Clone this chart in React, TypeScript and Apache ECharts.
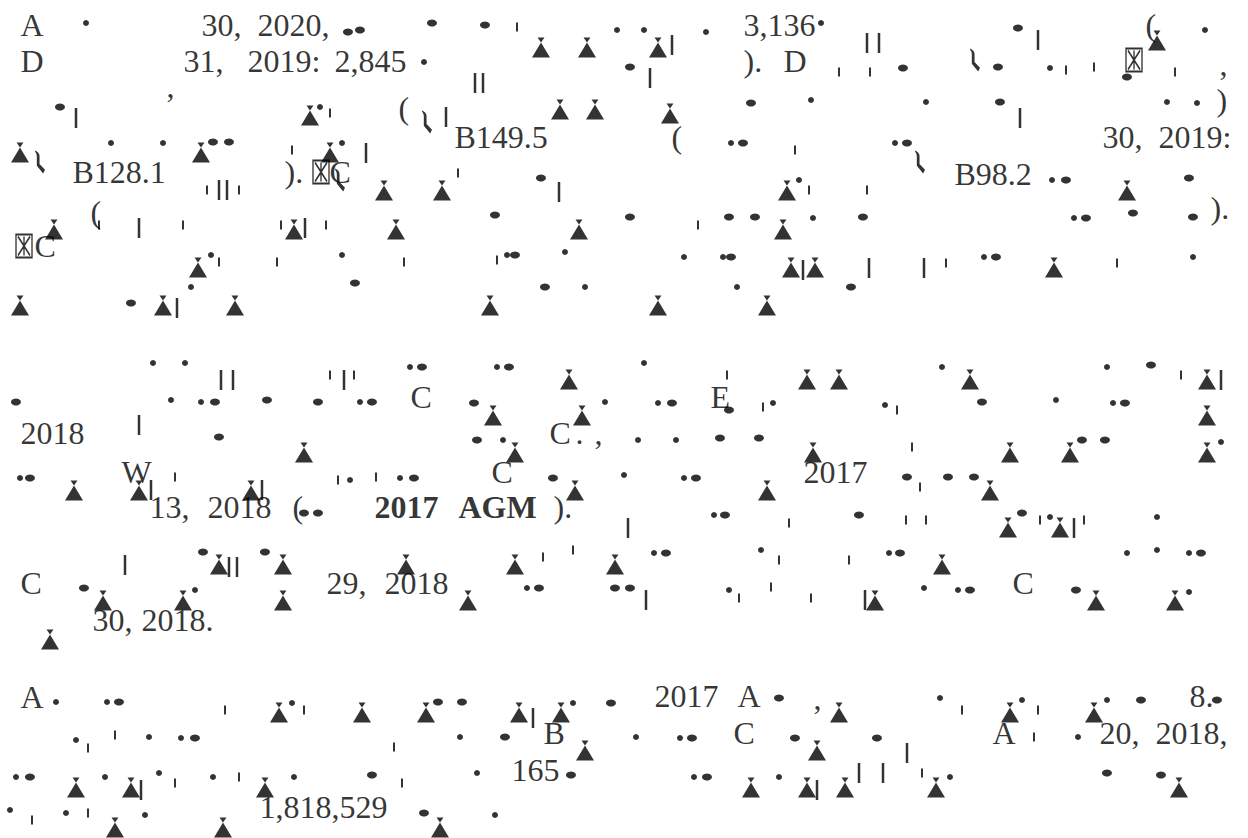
import React, { useEffect, useRef } from "react";
import * as echarts from "echarts";

const PAGE_W = 1248;
const PAGE_H = 838;

// Readable words of the page: [text, x (left edge), y (middle)]
const paragraph1Words: [string, number, number][] = [
  ["A", 20, 25], ["30,", 201, 25], ["2020,", 257, 25], ["3,136", 743, 25], ["(", 1145, 25],
  ["D", 20, 61], ["31,", 183, 61], ["2019:", 247, 61], ["2,845", 334, 61], [").", 743, 61], ["D", 783, 61], [",", 1219, 64],
  [",", 166, 86], ["(", 398, 108], [")", 1216, 100],
  ["(", 671, 137], ["B149.5", 454, 137], ["30,", 1102, 137], ["2019:", 1158, 137],
  ["B128.1", 72, 172], [").", 284, 172], ["C", 329, 172], ["B98.2", 954, 174],
  ["(", 90, 212], [").", 1210, 208],
  ["C", 34, 246],
];

const paragraph2Words: [string, number, number][] = [
  ["C", 410, 397], ["E", 710, 397],
  ["2018", 20, 433], ["C", 549, 433], [".", 575, 433], [",", 594, 433],
  ["W", 121, 472], ["C", 491, 472], ["2017", 803, 472],
  ["13,", 149, 507], ["2018", 207, 507], ["(", 292, 507], [").", 553, 507],
  ["C", 20, 583], ["29,", 326, 583], ["2018", 384, 583], ["C", 1012, 583],
  ["30,", 92, 620], ["2018.", 141, 620],
];

const paragraph3Words: [string, number, number][] = [
  ["A", 20, 697], ["2017", 654, 696], ["A", 737, 696], [",", 813, 698], ["8.", 1189, 696],
  ["B", 543, 733], ["C", 733, 733], ["A", 992, 733], ["20,", 1099, 733], ["2018,", 1155, 733],
  ["165", 511, 770],
  ["1,818,529", 259, 807],
];

const boldWords: [string, number, number][] = [
  ["2017", 374, 507],
  ["AGM", 458, 507],
];

// Missing-glyph boxes: [x, y] (centre)
const boxGlyphs: [number, number][] = [
  [1134, 60],
  [321, 172],
  [24, 246],
];

// Hook-shaped glyphs: [x, y] (centre)
const hookGlyphs: [number, number][] = [
  [40, 162], [427, 122], [340, 180], [975, 60], [920, 162],
];

// Triangle glyphs: [x, y] (centre)
const paragraph1Triangles: [number, number][] = [
  [541, 50], [587, 50], [658, 50], [1157, 43],
  [310, 118], [560, 112], [595, 112], [670, 116],
  [20, 155], [201, 155], [330, 155],
  [384, 193], [442, 193], [787, 193], [1127, 193],
  [54, 232], [294, 232], [396, 232], [579, 232], [783, 232],
  [198, 270], [791, 270], [815, 270], [1054, 270],
  [20, 308], [163, 308], [235, 308], [490, 308], [658, 308], [767, 308],
];

const paragraph2Triangles: [number, number][] = [
  [569, 382], [807, 382], [839, 382], [970, 382], [1207, 382],
  [493, 418], [582, 418], [1207, 418],
  [304, 455], [515, 455], [813, 455], [1010, 455], [1070, 455], [1207, 455],
  [74, 493], [139, 493], [251, 493], [575, 493], [767, 493], [990, 493],
  [1008, 530], [1060, 530],
  [219, 567], [283, 567], [406, 567], [515, 567], [615, 567], [942, 567],
  [103, 603], [183, 603], [283, 603], [468, 603], [875, 603], [1096, 603], [1175, 603],
  [50, 642],
];

const paragraph3Triangles: [number, number][] = [
  [279, 715], [362, 715], [426, 715], [519, 715], [561, 715], [839, 715], [1010, 715], [1094, 715],
  [585, 753], [817, 753],
  [76, 790], [131, 790], [265, 790], [751, 790], [807, 790], [845, 790], [936, 790], [1179, 790],
  [115, 830], [223, 830], [440, 830],
];

// Tall strokes: [x, y]
const tallStrokes: [number, number][] = [
  [672, 45], [867, 43], [879, 43], [1038, 40], [650, 78], [475, 83], [483, 83], [76, 118], [446, 117], [1020, 118],
  [366, 153], [219, 190], [227, 190], [559, 192], [139, 228], [305, 228], [869, 268], [924, 268], [803, 270], [177, 308],
  [221, 380], [233, 380], [344, 380], [1221, 380], [139, 425], [151, 490], [262, 490], [628, 528], [1074, 528],
  [125, 565], [229, 567], [237, 567], [646, 600], [865, 600], [533, 718], [907, 753], [141, 790], [817, 790], [859, 773], [883, 773],
];

// Short strokes: [x, y]
const shortStrokes: [number, number][] = [
  [517, 27], [330, 113], [839, 72], [870, 72], [1066, 70], [1094, 67], [1175, 72], [292, 150], [207, 190], [239, 190],
  [458, 173], [99, 225], [183, 225], [281, 225], [326, 225], [219, 262], [277, 262], [404, 262], [497, 260],
  [795, 150], [809, 190], [867, 190], [698, 225], [946, 263], [1117, 263],
  [330, 375], [354, 375], [727, 375], [1181, 375], [763, 407], [897, 410], [912, 447],
  [175, 477], [338, 480], [376, 477], [920, 487], [789, 523], [906, 520], [926, 520], [1040, 520], [1084, 520],
  [543, 557], [573, 550], [779, 560], [849, 560], [739, 598], [771, 587], [811, 598],
  [225, 710], [304, 710], [88, 748], [115, 735], [394, 747], [175, 783], [239, 777], [402, 783], [32, 820], [88, 813],
  [962, 710], [1038, 710], [1034, 737], [922, 773],
];

// Round dots: [x, y]
const dots: [number, number][] = [
  [86, 23], [617, 30], [424, 62], [320, 107], [644, 30], [706, 32], [821, 23], [1205, 30], [1050, 68], [811, 100],
  [926, 102], [1167, 102], [1197, 103], [111, 143], [163, 143], [342, 143], [731, 143], [895, 143], [799, 180], [1052, 180],
  [813, 218], [1074, 218], [211, 255], [342, 255], [507, 255], [565, 252], [684, 257], [723, 257], [984, 257], [1193, 257],
  [191, 287], [585, 287], [737, 287], [153, 363], [185, 363], [410, 367], [497, 367], [644, 363], [942, 367], [1107, 367],
  [171, 400], [201, 402], [360, 402], [605, 402], [658, 403], [773, 403], [885, 405], [1056, 400], [1113, 403], [503, 440],
  [638, 440], [676, 440], [1221, 442], [20, 478], [350, 480], [400, 478], [624, 475], [684, 478], [714, 515], [1050, 517],
  [1157, 517], [195, 590], [527, 588], [654, 553], [761, 550], [889, 553], [1127, 553], [1157, 550], [1189, 553], [729, 590],
  [924, 588], [958, 590], [1189, 592], [56, 702], [107, 702], [292, 703], [573, 703], [940, 698], [1022, 700], [1107, 700],
  [76, 740], [149, 737], [181, 738], [460, 737], [636, 737], [680, 738], [1078, 737], [16, 777], [105, 777], [159, 773],
  [213, 777], [294, 777], [477, 773], [694, 777], [779, 777], [950, 777], [10, 810], [66, 813], [145, 815], [495, 815],
];

// Teardrop blobs: [x, y]
const blobs: [number, number][] = [
  [348, 32], [360, 30], [432, 23], [485, 25], [1018, 28], [630, 67], [903, 68], [998, 67], [1127, 77], [60, 107],
  [751, 103], [1000, 102], [213, 142], [229, 142], [743, 143], [907, 143], [541, 178], [1066, 180], [1189, 178], [630, 217],
  [729, 217], [755, 217], [863, 217], [495, 215], [1086, 218], [1133, 213], [1193, 217], [515, 255], [731, 257], [996, 257],
  [355, 283], [545, 287], [851, 287], [131, 303], [422, 367], [509, 367], [1151, 365], [16, 402], [215, 402], [267, 400],
  [318, 402], [372, 402], [474, 403], [672, 403], [729, 410], [982, 402], [1125, 403], [219, 437], [477, 440], [720, 438],
  [759, 438], [1082, 440], [1105, 440], [30, 478], [414, 478], [553, 478], [696, 478], [907, 477], [948, 477], [974, 477],
  [304, 513], [318, 513], [725, 515], [859, 515], [1022, 513], [203, 552], [265, 552], [666, 553], [900, 553], [1201, 553],
  [84, 588], [539, 588], [615, 588], [630, 588], [970, 590], [1076, 590], [119, 702], [438, 702], [462, 702], [611, 703],
  [779, 698], [1141, 700], [1217, 700], [195, 738], [505, 737], [692, 738], [795, 738], [877, 738], [30, 777], [372, 775],
  [571, 775], [707, 777], [1107, 773], [1161, 775], [424, 813],
];

const INK = "#000000";
const SERIF = "'Liberation Serif', 'Times New Roman', serif";

function wordSeries(items: [string, number, number][], bold: boolean, size: number, family: string) {
  return {
    type: "scatter",
    symbolSize: 1,
    itemStyle: { color: "rgba(0,0,0,0)" },
    silent: true,
    data: items.map(([t, x, y]) => ({ value: [x, y], name: t })),
    label: {
      show: true,
      position: "right",
      distance: 0,
      formatter: (p: any) => p.name,
      fontFamily: family,
      fontSize: size,
      fontWeight: bold ? "bold" : "normal",
      color: INK,
    },
  };
}

function markSeries(items: [number, number][], symbol: string, size: number[] | number, extra: any = {}) {
  return {
    type: "scatter",
    symbol,
    symbolSize: size,
    itemStyle: { color: INK },
    silent: true,
    data: items,
    ...extra,
  };
}

export default function App() {
  const ref = useRef<HTMLDivElement>(null);
  useEffect(() => {
    document.body.style.margin = "0";
    if (!ref.current) return;
    const chart = echarts.init(ref.current, undefined, { renderer: "svg" });
    const triangles = [...paragraph1Triangles, ...paragraph2Triangles, ...paragraph3Triangles];
    chart.setOption({
      animation: false,
      backgroundColor: "#ffffff",
      grid: { left: 0, right: 0, top: 0, bottom: 0 },
      xAxis: { type: "value", min: 0, max: PAGE_W, show: false },
      yAxis: { type: "value", min: 0, max: PAGE_H, inverse: true, show: false },
      series: [
        wordSeries([...paragraph1Words, ...paragraph2Words, ...paragraph3Words], false, 32, SERIF),
        wordSeries(boldWords, true, 32, SERIF),
        markSeries(
          hookGlyphs,
          "path://M0 0C3 1 5 3 5 6L5 14L11 20L9 24L2 16L2 6C2 4 1 2 0 1Z",
          [10, 23]
        ),
        markSeries(triangles, "triangle", [18, 15]),
        markSeries(triangles, "triangle", [7, 5], { symbolRotate: 180, symbolOffset: [0, -10] }),
        markSeries(tallStrokes, "rect", [2.5, 20]),
        markSeries(shortStrokes, "rect", [2, 9]),
        markSeries(dots, "circle", 6),
        markSeries(blobs, "circle", [10, 7]),
        {
          type: "scatter",
          symbol: "path://M0 0H16V23H0ZM2 2L14 21M14 2L2 21M8 2V21",
          symbolSize: [16, 23],
          itemStyle: { color: "rgba(0,0,0,0)", borderColor: INK, borderWidth: 1.6 },
          silent: true,
          data: boxGlyphs,
        },
      ],
    });
    return () => chart.dispose();
  }, []);
  return <div ref={ref} style={{ width: PAGE_W, height: PAGE_H }} />;
}
